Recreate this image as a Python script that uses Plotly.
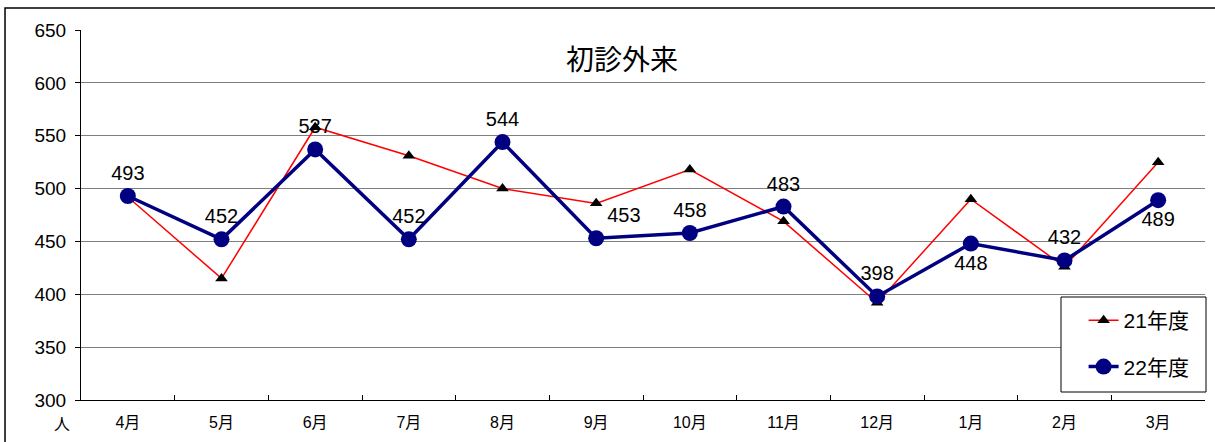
import plotly.graph_objects as go

months = ["4月", "5月", "6月", "7月", "8月", "9月", "10月", "11月", "12月", "1月", "2月", "3月"]
fy21 = [492, 415, 558, 531, 500, 486, 518, 469, 392, 490, 426, 525]
fy22 = [493, 452, 537, 452, 544, 453, 458, 483, 398, 448, 432, 489]
fy22_label_pos = ["top center", "top center", "top center", "top center", "top center", "top right",
                  "top center", "top center", "top center", "bottom center", "top center", "bottom center"]

FONT = "Liberation Sans, Arial, Noto Sans CJK JP, sans-serif"
CJK = "Noto Sans CJK JP, Liberation Sans, sans-serif"

fig = go.Figure()
fig.add_trace(go.Scatter(
    x=months, y=fy21, name="21年度", mode="lines+markers", legendgroup="a",
    line=dict(color="#FF0000", width=1.5),
    marker=dict(symbol="triangle-up", size=11, color="black"),
))
fig.add_trace(go.Scatter(
    x=months, y=fy22, name="22年度", mode="lines+markers+text", legendgroup="b",
    line=dict(color="#000080", width=3.5),
    marker=dict(symbol="circle", size=16, color="#000080"),
    text=[str(v) for v in fy22], textposition=fy22_label_pos,
    textfont=dict(family=FONT, size=20, color="black"),
))

fig.update_layout(
    width=1215, height=442,
    margin=dict(l=81, r=10, t=30, b=42),
    plot_bgcolor="white", paper_bgcolor="white",
    font=dict(family=FONT, color="black"),
    showlegend=True,
    legend=dict(
        x=0.892, y=0.27, xanchor="left", yanchor="top",
        borderwidth=0, bgcolor="rgba(0,0,0,0)",
        font=dict(family=FONT, size=21, color="black"),
        traceorder="grouped", tracegroupgap=16,
    ),
    xaxis=dict(
        type="category", range=[-0.5, 11.5],
        showline=True, linecolor="black", linewidth=1,
        ticks="inside", tickson="boundaries", ticklen=5, tickcolor="black",
        showgrid=False, tickfont=dict(family=FONT, size=16, color="black"),
        ticklabelstandoff=8,
    ),
    yaxis=dict(
        range=[300, 650], dtick=50,
        showline=True, linecolor="black", linewidth=1,
        ticks="outside", ticklen=5, tickcolor="black",
        showgrid=True, gridcolor="#7f7f7f", gridwidth=1,
        tickfont=dict(family=FONT, size=19, color="black"),
        ticklabelstandoff=5, zeroline=False,
    ),
    annotations=[
        dict(text="初診外来", xref="paper", yref="paper", x=0.481, y=0.924,
             xanchor="center", yanchor="middle",
             showarrow=False, font=dict(family=CJK, size=28, color="black")),
        dict(text="人", xref="paper", yref="paper", x=-0.0169, y=-0.062,
             xanchor="center", yanchor="middle", showarrow=False,
             font=dict(family=CJK, size=16, color="black")),
    ],
    shapes=[
        dict(type="rect", xref="paper", yref="paper", x0=-0.0676, y0=-0.3, x1=1.2, y1=1.0595,
             line=dict(color="black", width=1.5), layer="above"),
        # legend frame
        dict(type="rect", xref="paper", yref="paper",
             x0=(1061 - 81) / 1124, x1=(1206 - 81) / 1124,
             y0=(400 - 392) / 370, y1=(400 - 297) / 370,
             line=dict(color="black", width=1), fillcolor="white", layer="above"),
    ],
)

fig.write_html("out.html", config={"displayModeBar": False},
               post_script="document.body.style.margin='0';document.body.style.padding='0';")
